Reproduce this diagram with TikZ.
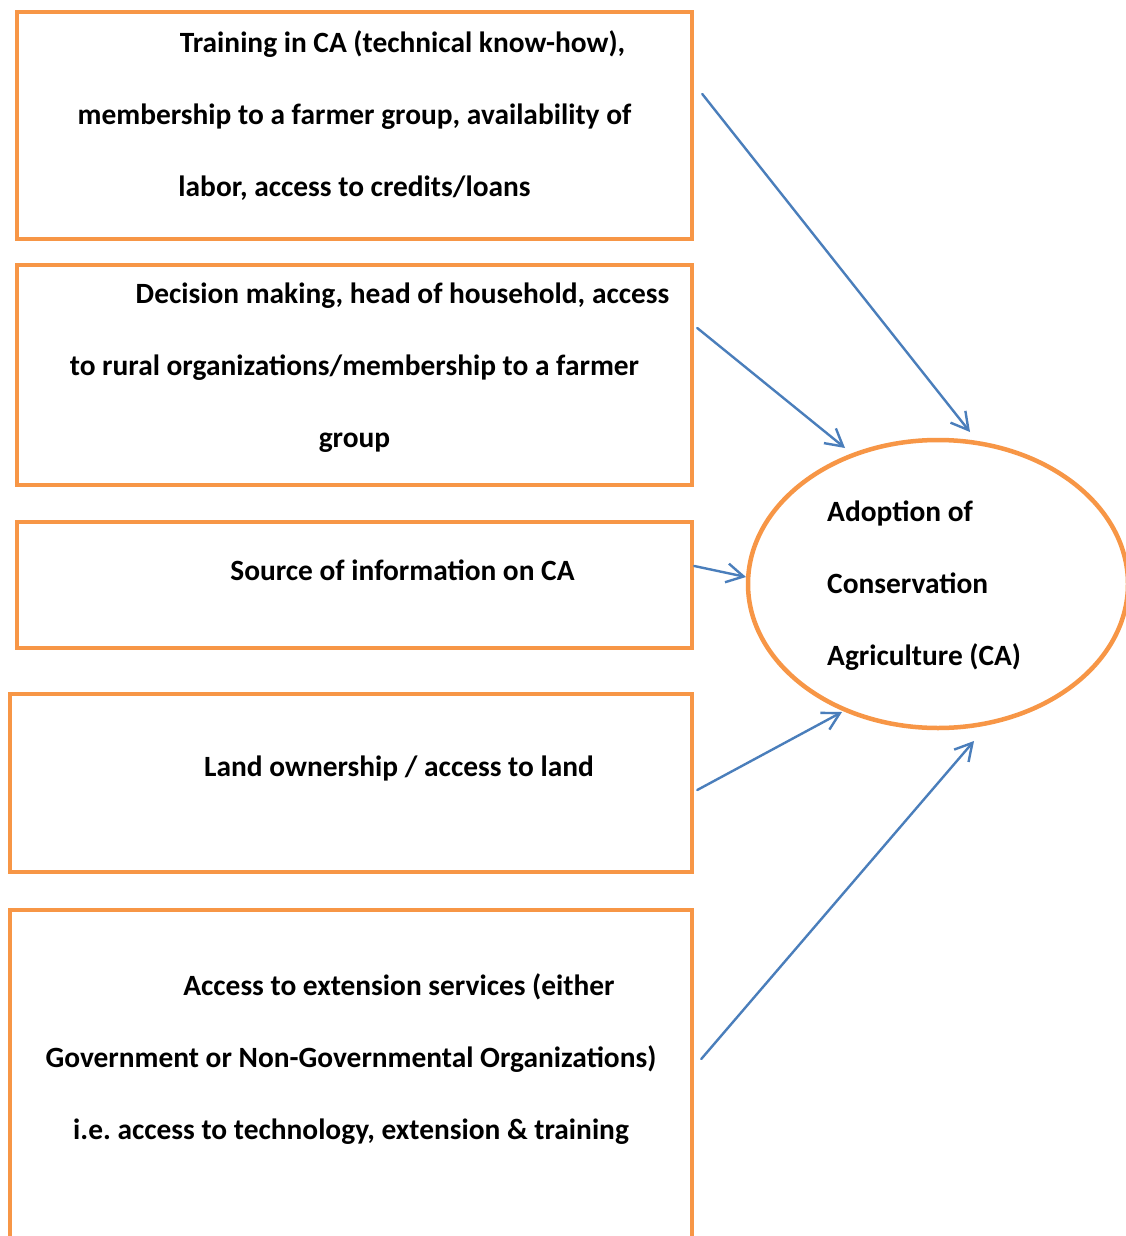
\documentclass[tikz,border=0pt]{standalone}
\usepackage{fontspec}
\setmainfont{Carlito}
\usetikzlibrary{arrows.meta,shapes.geometric}
\definecolor{boxorange}{HTML}{F79646}
\definecolor{arrblue}{HTML}{4A7EBB}
\tikzset{
  fbox/.style={draw=boxorange, line width=4.5pt, rectangle, inner sep=0pt},
  lbl/.style={inner sep=0pt, align=center, font=\fontsize{29.4}{72}\selectfont\bfseries},
  arr/.style={draw=arrblue, line width=2.4pt, line cap=round, -{Straight Barb[length=17pt,width=19pt,line width=2.4pt]}},
}
\newcommand{\ind}{\hspace*{96pt}}
\begin{document}
\begin{tikzpicture}[x=1pt,y=-1pt]
\useasboundingbox (0,0) rectangle (1125,1236);
\fill[white] (0,0) rectangle (1125,1236);
% boxes
\node[fbox, minimum width=675pt, minimum height=227pt] (b1) at (354.5,125.5) {};
\node[fbox, minimum width=675pt, minimum height=220pt] (b2) at (354.5,375) {};
\node[fbox, minimum width=675pt, minimum height=126pt] (b3) at (354.5,585) {};
\node[fbox, minimum width=682pt, minimum height=178pt] (b4) at (351,783) {};
\node[fbox, minimum width=682pt, minimum height=350pt] (b5) at (351,1085) {};
% ellipse
\node[draw=boxorange, line width=4.5pt, ellipse, minimum width=380pt, minimum height=288pt, inner sep=0pt] (ca) at (938,584) {};
% labels
\node[lbl] (t1) at (354.5,116) {\ind Training in CA (technical know-how),\\membership to a farmer group, availability of\\labor, access to credits/loans};
\node[lbl] (t2) at (354.5,368) {\ind Decision making, head of household, access\\to rural organizations/membership to a farmer\\group};
\node[lbl] (t3) at (354.5,570) {\ind Source of information on CA};
\node[lbl] (t4) at (351,768) {\ind Land ownership / access to land};
\node[lbl] (t5) at (351,1059) {\ind Access to extension services (either\\Government or Non-Governmental Organizations)\\i.e.\ access to technology, extension \& training};
\node[lbl, align=left, anchor=west] (t6) at (827,586) {Adoption of\\Conservation\\Agriculture (CA)};
% arrows
\draw[arr] ([shift={(8pt,31.5pt)}]b1.east) -- ([shift={(32pt,152pt)}]ca.center);
\draw[arr] ([shift={(3pt,47pt)}]b2.east) -- ([shift={(-93pt,136pt)}]ca.center);
\draw[arr] ([shift={(0pt,19pt)}]b3.east) -- ([shift={(-192pt,7pt)}]ca.center);
\draw[arr] ([shift={(3pt,-7pt)}]b4.east) -- ([shift={(-96pt,-128pt)}]ca.center);
\draw[arr] ([shift={(7pt,26pt)}]b5.east) -- ([shift={(36pt,-157pt)}]ca.center);
\end{tikzpicture}
\end{document}
